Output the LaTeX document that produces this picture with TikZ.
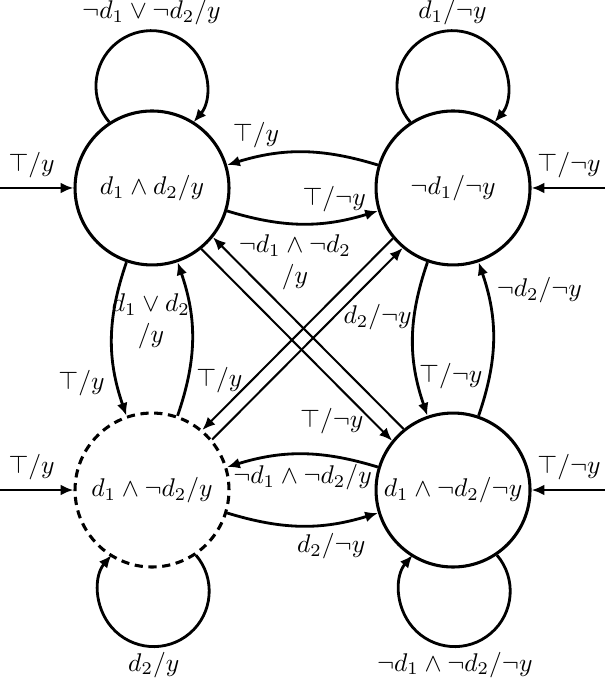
\documentclass[tikz,border=0pt]{standalone}
\usetikzlibrary{arrows.meta}
\begin{document}
\begin{tikzpicture}[
    >={Latex[length=5pt,width=4.2pt]},
    state/.style={circle, draw, line width=1.2pt, minimum size=2.115cm, inner sep=0pt},
    tentative/.style={state, dash pattern=on 3.2pt off 2.2pt},
    trans/.style={->, line width=1.1pt},
    cross/.style={->, line width=0.8pt},
    looplabel/.style={inner sep=1.5pt},
  ]
    \useasboundingbox (0,0) rectangle (8.31,-9.327);

    % states
    \node[state] (q1) at (2.088,-2.582) {$d_1 \wedge d_2/y$};
    \node[state] (q2) at (6.223,-2.582) {$\neg d_1/\neg y$};
    \node[tentative] (q3) at (2.088,-6.731) {$d_1 \wedge \neg d_2/y$};
    \node[state] (q4) at (6.223,-6.731) {$d_1 \wedge \neg d_2/\neg y$};

    % entry arrows
    \coordinate (in1) at (0,-2.582);
    \coordinate (in2) at (8.31,-2.582);
    \coordinate (in3) at (0,-6.731);
    \coordinate (in4) at (8.31,-6.731);
    \draw[trans] (in1) -- (q1) node[pos=0.43, above] {$\top/y$};
    \draw[trans] (in2) -- (q2) node[pos=0.49, above] {$\top/\neg y$};
    \draw[trans] (in3) -- (q3) node[pos=0.43, above] {$\top/y$};
    \draw[trans] (in4) -- (q4) node[pos=0.49, above] {$\top/\neg y$};

    % self loops (round arcs)
    \draw[trans] (q1.123.2) arc[start angle=220.5, end angle=-40.5, radius=0.762cm]
      node[pos=0.5, above, looplabel] {$\neg d_1 \vee \neg d_2/y$};
    \draw[trans] (q2.123.2) arc[start angle=220.5, end angle=-40.5, radius=0.762cm]
      node[pos=0.5, above, looplabel] {$d_1/\neg y$};
    \draw[trans] (q3.-56.8) arc[start angle=40.5, end angle=-220.5, radius=0.762cm]
      node[pos=0.5, below, looplabel] {$d_2/y$};
    \draw[trans] (q4.-56.8) arc[start angle=40.5, end angle=-220.5, radius=0.762cm]
      node[pos=0.5, below, looplabel] {$\neg d_1 \wedge \neg d_2/\neg y$};

    % horizontal pairs
    \draw[trans] (q2) to[bend right=17] node[pos=0.82, above] {$\top/y$} (q1);
    \draw[trans] (q1) to[bend right=17] node[pos=0.72, above] {$\top/\neg y$} (q2);
    \draw[trans] (q4) to[bend right=17] node[pos=0.5, below] {$\neg d_1 \wedge \neg d_2/y$} (q3);
    \draw[trans] (q3) to[bend right=17] node[pos=0.7, below] {$d_2/\neg y$} (q4);

    % vertical pairs
    \draw[trans] (q1) to[bend right=19] node[pos=0.8, left=1pt] {$\top/y$} (q3);
    \draw[trans] (q3) to[bend right=19] node[pos=0.62, left, inner sep=0pt, align=center] {$d_1 \vee d_2$\\$/y$} (q1);
    \draw[trans] (q2) to[bend right=19] node[pos=0.75, right, inner sep=0.5pt] {$\top/\neg y$} (q4);
    \draw[trans] (q4) to[bend right=19] node[pos=0.83, right] {$\neg d_2/\neg y$} (q2);

    % diagonals
    \draw[cross] (q4.129) -- (q1.-39) node[pos=0.87, anchor=west, inner sep=0pt, align=center] {$\neg d_1 \wedge \neg d_2$\\$/y$};
    \draw[cross] (q1.-51) -- (q4.141) node[pos=0.9, left] {$\top/\neg y$};
    \draw[cross] (q2.220) -- (q3.50) node[pos=0.74, left] {$\top/y$};
    \draw[cross] (q3.40) -- (q2.230) node[pos=0.64, right] {$d_2/\neg y$};
\end{tikzpicture}
\end{document}
